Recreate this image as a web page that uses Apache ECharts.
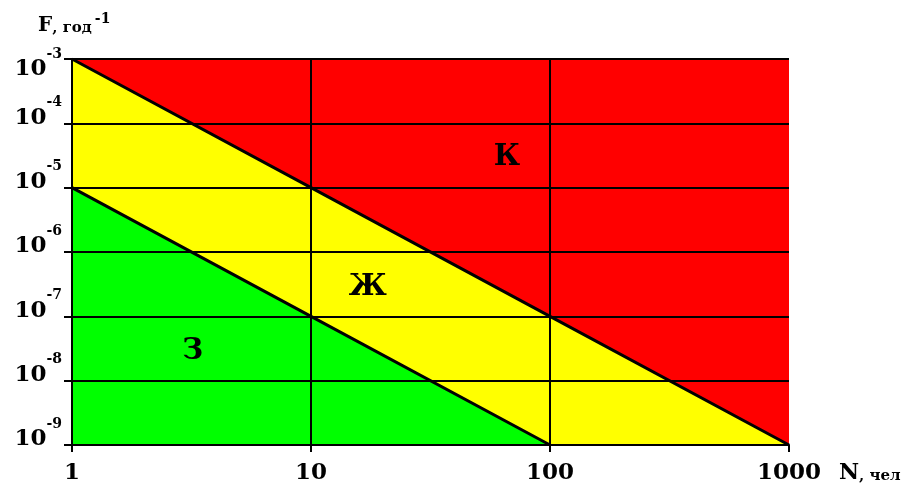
<!DOCTYPE html>
<html>
<head>
<meta charset="utf-8">
<script src="https://cdn.jsdelivr.net/npm/echarts@6/dist/echarts.min.js"></script>
<style>
  html, body { margin: 0; padding: 0; background: #fff; }
  #chart { width: 922px; height: 485px; }
</style>
</head>
<body>
<div id="chart"></div>
<script>
// Axis ranges: number of people N and frequency F (per year)
const nTicks = [1, 10, 100, 1000];
const fTicks = [1e-9, 1e-8, 1e-7, 1e-6, 1e-5, 1e-4, 1e-3];

// Zone boundaries as (N, F) points
const topEdge = [[1, 1e-3], [1000, 1e-3]];
const upperBoundary = [[1, 1e-3], [10, 1e-5], [100, 1e-7], [1000, 1e-9]];
const lowerBoundary = [[1, 1e-5], [10, 1e-7], [100, 1e-9]];

// Zone captions placed at (N, F)
const zoneNames = ['К', 'Ж', 'З'];
const zoneN = [66, 17.3, 3.2];
const zoneF = [2.9e-5, 2.8e-7, 2.8e-8];

const SERIF = '"DejaVu Serif", "Liberation Serif", serif';

const chart = echarts.init(document.getElementById('chart'));

// grid line colours in tick order; the line at the axis maximum is left out
const lastHidden = (count) => {
  const c = [];
  for (let i = 0; i < count; i++) c.push(i === count - 1 ? 'rgba(0,0,0,0)' : '#000');
  return c;
};

chart.setOption({
  animation: false,
  backgroundColor: '#fff',
  grid: { left: 72, right: 133, top: 59, bottom: 34, containLabel: false },
  xAxis: {
    type: 'log',
    logBase: 10,
    min: nTicks[0],
    max: nTicks[nTicks.length - 1],
    z: 5,
    axisLine: { show: true, onZero: false, lineStyle: { color: '#000', width: 2 } },
    axisTick: { show: true, length: 7, lineStyle: { color: '#000', width: 2 } },
    minorTick: { show: false },
    splitLine: { show: true, lineStyle: { color: lastHidden(nTicks.length), width: 2 } },
    axisLabel: {
      margin: 17,
      color: '#000',
      fontFamily: SERIF,
      fontWeight: 'bold',
      fontSize: 23,
      formatter: (v) => String(Math.round(v))
    },
    name: '{n|N}{c|, чел}',
    nameLocation: 'end',
    nameGap: 50,
    nameTextStyle: {
      verticalAlign: 'top',
      align: 'left',
      padding: [15, 0, 0, 0],
      rich: {
        n: { fontFamily: SERIF, fontWeight: 'bold', fontSize: 22, color: '#000', lineHeight: 24, verticalAlign: 'bottom' },
        c: { fontFamily: SERIF, fontWeight: 'bold', fontSize: 15, color: '#000', lineHeight: 24, verticalAlign: 'bottom' }
      }
    }
  },
  yAxis: {
    type: 'log',
    logBase: 10,
    min: fTicks[0],
    max: fTicks[fTicks.length - 1],
    splitNumber: 6,
    z: 5,
    axisLine: { show: true, onZero: false, lineStyle: { color: '#000', width: 2 } },
    axisTick: { show: true, length: 8, lineStyle: { color: '#000', width: 2 } },
    minorTick: { show: false },
    splitLine: { show: true, lineStyle: { color: lastHidden(fTicks.length), width: 2 } },
    axisLabel: {
      margin: 10,
      color: '#000',
      formatter: (v) => {
        const e = Math.round(Math.log10(v));
        const t = '{b|10}{s|' + e + '}';
        // the top label sits below its tick, the others above
        return e === -3 ? '{gt| }\n' + t : t + '\n{g| }';
      },
      rich: {
        b: { fontFamily: SERIF, fontWeight: 'bold', fontSize: 23, color: '#000', lineHeight: 34, verticalAlign: 'bottom' },
        s: { fontFamily: SERIF, fontWeight: 'bold', fontSize: 14, color: '#000', lineHeight: 14, verticalAlign: 'top' },
        g: { fontSize: 10, lineHeight: 22 },
        gt: { fontSize: 10, lineHeight: 10 }
      }
    },
    name: '{f|F}{c|, год}{s|-1}',
    nameLocation: 'end',
    nameGap: 23,
    nameTextStyle: {
      align: 'left',
      verticalAlign: 'bottom',
      padding: [0, 0, 0, -34],
      rich: {
        f: { fontFamily: SERIF, fontWeight: 'bold', fontSize: 20, color: '#000', lineHeight: 24, verticalAlign: 'bottom' },
        c: { fontFamily: SERIF, fontWeight: 'bold', fontSize: 15, color: '#000', lineHeight: 24, verticalAlign: 'bottom' },
        s: { fontFamily: SERIF, fontWeight: 'bold', fontSize: 14, color: '#000', lineHeight: 20, verticalAlign: 'top', padding: [0, 0, 0, 3] }
      }
    }
  },
  series: [
    {
      name: 'red',
      type: 'line',
      data: topEdge,
      symbol: 'none',
      lineStyle: { width: 0 },
      areaStyle: { color: '#ff0000', opacity: 1, origin: 'start' },
      z: 1
    },
    {
      name: 'yellow',
      type: 'line',
      data: upperBoundary,
      symbol: 'none',
      lineStyle: { color: '#000', width: 3 },
      areaStyle: { color: '#ffff00', opacity: 1, origin: 'start' },
      z: 2
    },
    {
      name: 'green',
      type: 'line',
      data: lowerBoundary,
      symbol: 'none',
      lineStyle: { color: '#000', width: 3 },
      areaStyle: { color: '#00ff00', opacity: 1, origin: 'start' },
      z: 3
    },
    {
      name: 'zones',
      type: 'scatter',
      symbolSize: 0,
      z: 10,
      itemStyle: { color: '#000', opacity: 1 },
      data: zoneNames.map((n, i) => ({ name: n, value: [zoneN[i], zoneF[i]] })),
      label: {
        show: true,
        position: 'inside',
        formatter: (p) => p.name,
        fontFamily: SERIF,
        fontWeight: 'bold',
        fontSize: 29,
        color: '#000',
        opacity: 1
      }
    }
  ]
});
</script>
</body>
</html>
